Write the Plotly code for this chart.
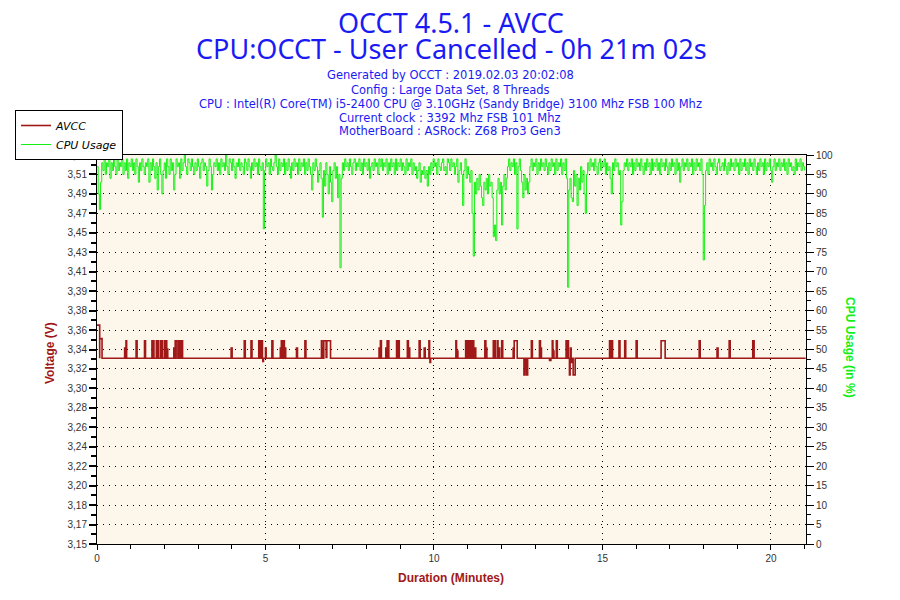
import plotly.graph_objects as go

# ---------------- data ----------------
CPU_STEP_MIN = 0.035         # sampling interval of the CPU usage readings (minutes)
cpu_usage = [
    97, 90, 86, 93, 98, 96, 99, 95, 98, 97, 99, 94, 98, 96, 100, 97, 95, 99, 96, 98,
    97, 99, 95, 98, 96, 99, 94, 98, 97, 99, 96, 98, 95, 99, 97, 93, 98, 96, 99, 97,
    95, 98, 97, 99, 93, 98, 96, 99, 97, 94, 98, 91, 97, 99, 95, 90, 96, 98, 94, 99,
    97, 95, 99, 96, 98, 91, 95, 99, 97, 98, 94, 99, 96, 98, 100, 97, 95, 99, 98, 96,
    99, 97, 95, 98, 96, 99, 97, 94, 98, 99, 96, 98, 97, 92, 96, 99, 97, 91, 95, 98,
    97, 99, 96, 98, 95, 99, 97, 98, 96, 100, 97, 95, 99, 98, 96, 99, 97, 94, 98, 97,
    99, 96, 98, 97, 95, 99, 98, 96, 99, 97, 94, 98, 96, 99, 97, 98, 95, 99, 97, 96,
    98, 81, 96, 99, 97, 98, 95, 99, 97, 96, 98, 100, 97, 95, 99, 96, 98, 97, 99, 95,
    98, 96, 99, 97, 94, 98, 96, 99, 97, 98, 95, 99, 96, 98, 97, 99, 95, 98, 96, 99,
    97, 95, 91, 98, 96, 99, 97, 93, 96, 98, 94, 84, 96, 92, 98, 95, 90, 97, 93, 88,
    96, 98, 94, 97, 89, 95, 71, 94, 98, 96, 99, 97, 98, 96, 99, 97, 95, 98, 99, 96,
    98, 97, 99, 96, 98, 95, 99, 97, 98, 96, 99, 94, 97, 98, 96, 99, 97, 98, 95, 99,
    97, 99, 96, 98, 97, 99, 95, 98, 96, 99, 97, 98, 95, 99, 96, 98, 97, 99, 96, 98,
    97, 95, 99, 96, 98, 97, 99, 95, 98, 96, 97, 94, 96, 98, 93, 96, 95, 97, 94, 96,
    92, 97, 95, 98, 96, 99, 97, 98, 95, 99, 97, 96, 98, 99, 96, 97, 95, 99, 98, 96,
    99, 97, 98, 95, 97, 99, 93, 96, 98, 95, 87, 96, 99, 94, 97, 95, 93, 96, 85, 74,
    93, 90, 94, 91, 95, 92, 89, 87, 93, 91, 94, 90, 95, 92, 93, 89, 79, 82, 78, 91,
    94, 90, 93, 82, 92, 95, 91, 94, 97, 99, 96, 98, 97, 99, 95, 98, 81, 97, 99, 96,
    93, 89, 95, 91, 94, 90, 93, 97, 99, 96, 98, 97, 99, 95, 98, 96, 99, 97, 98, 96,
    99, 97, 95, 98, 96, 99, 97, 98, 95, 99, 96, 98, 97, 99, 95, 98, 96, 99, 94, 66,
    91, 94, 89, 88, 96, 92, 95, 87, 94, 91, 97, 93, 96, 90, 85, 95, 98, 96, 99, 97,
    98, 96, 99, 97, 95, 98, 99, 96, 98, 97, 99, 95, 98, 96, 97, 94, 90, 98, 96, 99,
    97, 98, 95, 96, 82, 88, 96, 98, 97, 99, 96, 98, 97, 99, 95, 98, 96, 99, 97, 98,
    96, 99, 97, 95, 98, 96, 99, 97, 98, 95, 99, 96, 98, 97, 99, 96, 98, 95, 99, 97,
    98, 96, 99, 97, 95, 98, 96, 99, 97, 98, 95, 99, 96, 98, 93, 97, 99, 96, 98, 97,
    99, 96, 98, 97, 99, 95, 98, 96, 99, 97, 98, 96, 99, 95, 73, 87, 96, 98, 95, 99,
    97, 98, 96, 99, 97, 95, 98, 99, 96, 97, 98, 96, 99, 97, 95, 98, 96, 99, 97, 98,
    96, 99, 97, 98, 95, 99, 96, 98, 97, 99, 96, 98, 95, 99, 97, 98, 96, 99, 97, 95,
    98, 96, 99, 97, 98, 95, 99, 96, 98, 97, 99, 96, 93, 97, 99, 96, 98, 97, 99, 96,
    98, 97, 99, 96, 98, 95, 99, 97, 98, 96, 97, 95, 99, 96, 98, 97, 99, 96, 98, 97,
    96,
]
cpu_minutes = [i * CPU_STEP_MIN for i in range(len(cpu_usage))]

AVCC_BASE = 3.329            # resting AVCC reading (V)
TEST_END_MIN = 21.03         # 0h 21m 02s
# deviations from the resting value: start (min), end (min), reading (V)
avcc_start = [0.00, 0.08, 0.82, 0.86, 1.16, 1.41, 1.63, 1.66, 1.76, 1.80,
              1.88, 1.92, 2.00, 2.04, 2.08, 2.28, 2.32, 2.42, 2.46, 2.50,
              3.98, 4.37, 4.57, 4.80, 4.84, 4.87, 4.92, 5.00, 5.19, 5.44,
              5.47, 5.53, 5.57, 5.92, 6.17, 6.66, 6.70, 6.73, 6.80, 6.82,
              8.37, 8.41, 8.57, 8.61, 8.64, 8.89, 8.94, 9.21, 9.25, 9.56,
              9.71, 9.85, 9.88, 10.65, 10.68, 10.94, 10.99, 11.05, 11.10, 11.16,
              11.20, 11.51, 11.55, 11.76, 11.79, 11.88, 11.92, 12.01, 12.35, 12.38,
              12.67, 12.71, 12.75, 12.89, 13.13, 13.17, 13.43, 13.51, 13.54, 13.63,
              13.92, 13.96, 14.02, 14.05, 14.08, 14.13, 15.21, 15.27, 15.49, 15.66,
              16.00, 16.74, 17.87, 18.40, 18.76, 19.46]
avcc_end = [0.08, 0.15, 0.84, 0.88, 1.19, 1.44, 1.65, 1.69, 1.78, 1.82,
            1.90, 1.94, 2.02, 2.07, 2.10, 2.30, 2.37, 2.44, 2.48, 2.54,
            4.01, 4.40, 4.60, 4.83, 4.86, 4.91, 4.94, 5.02, 5.22, 5.46,
            5.51, 5.56, 5.60, 5.95, 6.20, 6.68, 6.72, 6.80, 6.82, 6.93,
            8.39, 8.44, 8.59, 8.63, 8.66, 8.92, 8.97, 9.24, 9.28, 9.59,
            9.74, 9.87, 9.90, 10.67, 10.71, 10.96, 11.01, 11.08, 11.12, 11.18,
            11.24, 11.54, 11.57, 11.78, 11.82, 11.90, 11.95, 12.04, 12.37, 12.47,
            12.70, 12.74, 12.78, 12.92, 13.16, 13.19, 13.47, 13.53, 13.56, 13.66,
            13.94, 13.99, 14.04, 14.07, 14.10, 14.19, 15.24, 15.30, 15.52, 15.69,
            16.03, 16.86, 17.90, 18.43, 18.79, 19.50]
avcc_level = [3.361, 3.348, 3.339, 3.346, 3.346, 3.346, 3.346, 3.346, 3.346, 3.346,
              3.346, 3.346, 3.346, 3.346, 3.338, 3.339, 3.346, 3.346, 3.346, 3.346,
              3.339, 3.346, 3.346, 3.346, 3.339, 3.346, 3.326, 3.339, 3.346, 3.339,
              3.346, 3.346, 3.339, 3.339, 3.346, 3.346, 3.339, 3.346, 3.336, 3.346,
              3.339, 3.346, 3.339, 3.346, 3.346, 3.346, 3.346, 3.346, 3.339, 3.346,
              3.339, 3.346, 3.325, 3.346, 3.336, 3.346, 3.346, 3.346, 3.346, 3.346,
              3.339, 3.346, 3.339, 3.346, 3.346, 3.346, 3.339, 3.346, 3.339, 3.346,
              3.313, 3.318, 3.313, 3.346, 3.346, 3.339, 3.327, 3.346, 3.336, 3.346,
              3.346, 3.346, 3.313, 3.339, 3.325, 3.313, 3.346, 3.346, 3.346, 3.346,
              3.346, 3.346, 3.346, 3.339, 3.346, 3.346]

volt_ticktext = ["3,15", "3,17", "3,18", "3,20", "3,22", "3,24", "3,26", "3,28",
                 "3,30", "3,32", "3,34", "3,36", "3,38", "3,39", "3,41", "3,43",
                 "3,45", "3,47", "3,49", "3,51", "3,53"]
VOLT_MIN, VOLT_MAX = 3.15, 3.525

title_lines = ["OCCT 4.5.1 - AVCC", "CPU:OCCT - User Cancelled - 0h 21m 02s"]
info_lines = [
    "Generated by OCCT : 2019.02.03 20:02:08",
    "Config : Large Data Set, 8 Threads",
    "CPU : Intel(R) Core(TM) i5-2400 CPU @ 3.10GHz (Sandy Bridge) 3100 Mhz FSB 100 Mhz",
    "Current clock : 3392 Mhz FSB 101 Mhz",
    "MotherBoard : ASRock: Z68 Pro3 Gen3",
]

# build AVCC step series from the readings
avcc_x, avcc_y = [], []
for s, e, v in zip(avcc_start, avcc_end, avcc_level):
    avcc_x += [s, e]
    avcc_y += [v, AVCC_BASE]
avcc_x.append(TEST_END_MIN)
avcc_y.append(AVCC_BASE)

# ---------------- layout helpers ----------------
# the page body adds an 8px offset; the figure is sized so the plot lands in place
OFF = 8
W, H = 900 - OFF, 600 - OFF
L, R, T, B = 97, 806, 155, 544   # plot area in window pixels


def pxx(x):
    return (x - L) / (R - L)


def pxy(y):
    return (B - y) / (B - T)


RED = "#A01818"
GREEN = "#14F014"
BLUE = "#1A1AF5"
TICKFONT = dict(family="Liberation Sans, Arial, sans-serif", size=10, color="#333333")

fig = go.Figure()
fig.add_trace(go.Scatter(x=avcc_x, y=avcc_y, mode="lines", name="AVCC",
                         line=dict(color=RED, width=1.6, shape="hv"), yaxis="y"))
fig.add_trace(go.Scatter(x=cpu_minutes, y=cpu_usage, mode="lines", name="CPU Usage",
                         line=dict(color=GREEN, width=1, shape="hv"), yaxis="y2"))

step = (VOLT_MAX - VOLT_MIN) / (len(volt_ticktext) - 1)
volt_tickvals = [VOLT_MIN + i * step for i in range(len(volt_ticktext))]

fig.update_layout(
    width=W, height=H,
    margin=dict(l=L - OFF, r=900 - R, t=T - OFF, b=600 - B, pad=0, autoexpand=False),
    paper_bgcolor="white",
    plot_bgcolor="#FDF7EB",
    showlegend=True,
    legend=dict(x=pxx(15), y=pxy(110), xanchor="left", yanchor="top",
                bgcolor="white", bordercolor="black", borderwidth=1,
                font=dict(family="DejaVu Sans", size=11, color="black", style="italic"),
                itemwidth=30, tracegroupgap=0),
    xaxis=dict(range=[0, 21.04], tickvals=[0, 5, 10, 15, 20],
               showline=True, linecolor="black", linewidth=1, mirror=True,
               ticks="outside", ticklen=5, tickcolor="black",
               minor=dict(dtick=1, tick0=0, ticks="outside", ticklen=4, tickcolor="black", showgrid=False),
               showgrid=True, gridcolor="black", gridwidth=1, griddash="1px,5px",
               zeroline=False, tickfont=TICKFONT, fixedrange=True),
    yaxis=dict(range=[VOLT_MIN, VOLT_MAX], tickvals=volt_tickvals, ticktext=volt_ticktext,
               showline=True, linecolor="black", linewidth=1, mirror=True,
               ticks="outside", ticklen=7, tickwidth=2, tickcolor="black",
               minor=dict(dtick=step / 2, tick0=VOLT_MIN, ticks="outside", ticklen=5,
                          tickcolor="black", showgrid=False),
               showgrid=True, gridcolor="black", gridwidth=1, griddash="1px,5px",
               zeroline=False, tickfont=TICKFONT, fixedrange=True),
    yaxis2=dict(range=[0, 100], dtick=5, overlaying="y", side="right",
                showline=True, linecolor="black", linewidth=1,
                ticks="outside", ticklen=7, tickcolor="black",
                minor=dict(dtick=2.5, ticks="outside", ticklen=4, tickcolor="black", showgrid=False),
                showgrid=False, zeroline=False, tickfont=TICKFONT, fixedrange=True),
)

annotations = []
for text, y in zip(title_lines, [22.5, 48]):
    annotations.append(dict(text=text, x=pxx(451), y=pxy(y), xref="paper", yref="paper",
                            xanchor="center", yanchor="middle", showarrow=False,
                            font=dict(family="Noto Sans", size=27, color=BLUE)))
for text, y in zip(info_lines, [75, 90, 104, 118, 131]):
    annotations.append(dict(text=text, x=pxx(450), y=pxy(y), xref="paper", yref="paper",
                            xanchor="center", yanchor="middle", showarrow=False,
                            font=dict(family="DejaVu Sans", size=11.5, color=BLUE)))
annotations.append(dict(text="<b>Voltage (V)</b>", x=pxx(50), y=pxy(353), xref="paper", yref="paper",
                        textangle=-90, showarrow=False, xanchor="center", yanchor="middle",
                        font=dict(family="Liberation Sans, Arial", size=12, color=RED)))
annotations.append(dict(text="<b>CPU Usage (in %)</b>", x=pxx(850), y=pxy(348), xref="paper", yref="paper",
                        textangle=90, showarrow=False, xanchor="center", yanchor="middle",
                        font=dict(family="Liberation Sans, Arial", size=12, color=GREEN)))
annotations.append(dict(text="<b>Duration (Minutes)</b>", x=pxx(451), y=pxy(578), xref="paper", yref="paper",
                        showarrow=False, xanchor="center", yanchor="middle",
                        font=dict(family="Liberation Sans, Arial", size=12, color=RED)))
fig.update_layout(annotations=annotations)

fig.write_html("out.html")
